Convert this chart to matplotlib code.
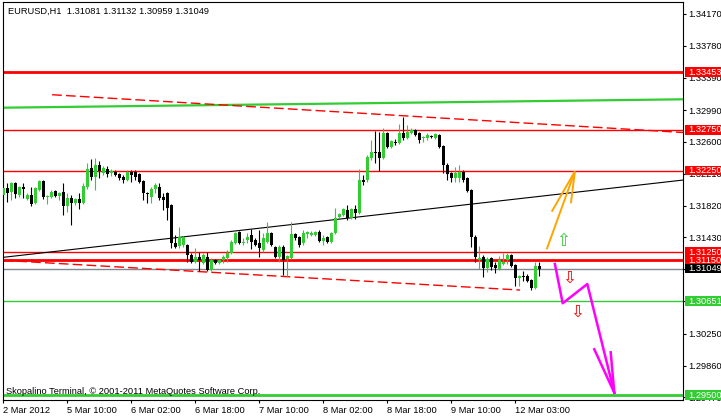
import matplotlib
matplotlib.use('Agg')
import matplotlib.pyplot as plt
from matplotlib.patches import Rectangle
from matplotlib.transforms import blended_transform_factory

# EURUSD H1 bars as shown on screen (bar 0 = 2 Mar 2012, one bar per hour)
opens = [1.31950, 1.32036, 1.31987, 1.32097, 1.31950, 1.32048, 1.31901, 1.31950, 1.31852, 1.32012,
         1.32122, 1.31926, 1.31926, 1.31999, 1.31938, 1.31987, 1.31816, 1.31914, 1.31852, 1.31901,
         1.31852, 1.32048, 1.32281, 1.32171, 1.32318, 1.32220, 1.32269, 1.32220, 1.32232, 1.32208,
         1.32171, 1.32134, 1.32232, 1.32232, 1.32208, 1.32122, 1.31975, 1.31926, 1.32024, 1.32048,
         1.31926, 1.31975, 1.31828, 1.31362, 1.31326, 1.31338, 1.31338, 1.31215, 1.31130, 1.31191,
         1.31117, 1.31191, 1.31032, 1.31154, 1.31117, 1.31154, 1.31179, 1.31240, 1.31362, 1.31497,
         1.31362, 1.31399, 1.31460, 1.31399, 1.31362, 1.31277, 1.31375, 1.31485, 1.31313, 1.31191,
         1.31313, 1.31166, 1.31179, 1.31473, 1.31436, 1.31362, 1.31473, 1.31460, 1.31460, 1.31497,
         1.31387, 1.31436, 1.31375, 1.31485, 1.31681, 1.31705, 1.31767, 1.31669, 1.31779, 1.31730,
         1.32134, 1.32134, 1.32404, 1.32477, 1.32477, 1.32404, 1.32710, 1.32538, 1.32599, 1.32587,
         1.32710, 1.32648, 1.32710, 1.32746, 1.32710, 1.32648, 1.32648, 1.32673, 1.32648, 1.32685,
         1.32550, 1.32318, 1.32220, 1.32159, 1.32159, 1.32232, 1.32159, 1.32012, 1.31436, 1.31154,
         1.31191, 1.31056, 1.31179, 1.31093, 1.31044, 1.31105, 1.31154, 1.31215, 1.31093, 1.30934,
         1.30958, 1.30958, 1.30909, 1.30811, 1.31081]
highs = [1.32171, 1.32097, 1.32110, 1.32110, 1.32061, 1.32097, 1.31975, 1.32048, 1.32048, 1.32134,
         1.32134, 1.31950, 1.32012, 1.32012, 1.31987, 1.32097, 1.31975, 1.31950, 1.31914, 1.31975,
         1.32097, 1.32342, 1.32391, 1.32404, 1.32367, 1.32305, 1.32305, 1.32269, 1.32257, 1.32220,
         1.32195, 1.32257, 1.32257, 1.32257, 1.32220, 1.32134, 1.31987, 1.32048, 1.32097, 1.32097,
         1.31975, 1.31987, 1.31840, 1.31460, 1.31558, 1.31448, 1.31350, 1.31240, 1.31301, 1.31252,
         1.31240, 1.31252, 1.31179, 1.31166, 1.31166, 1.31215, 1.31277, 1.31399, 1.31497, 1.31509,
         1.31424, 1.31485, 1.31534, 1.31424, 1.31522, 1.31485, 1.31620, 1.31497, 1.31326, 1.31338,
         1.31338, 1.31215, 1.31620, 1.31485, 1.31448, 1.31522, 1.31509, 1.31509, 1.31509, 1.31522,
         1.31460, 1.31448, 1.31497, 1.31791, 1.31730, 1.31791, 1.31828, 1.31791, 1.31828, 1.32269,
         1.32195, 1.32440, 1.32624, 1.32734, 1.32722, 1.32771, 1.32722, 1.32624, 1.32636, 1.32820,
         1.32906, 1.32808, 1.32771, 1.32759, 1.32722, 1.32673, 1.32710, 1.32685, 1.32710, 1.32697,
         1.32563, 1.32342, 1.32232, 1.32293, 1.32318, 1.32257, 1.32171, 1.32024, 1.31460, 1.31326,
         1.31215, 1.31191, 1.31191, 1.31130, 1.31203, 1.31240, 1.31240, 1.31228, 1.31105, 1.30970,
         1.31019, 1.30982, 1.30921, 1.31130, 1.31132]
lows = [1.31889, 1.31865, 1.31889, 1.31914, 1.31926, 1.31914, 1.31889, 1.31816, 1.31840, 1.31999,
        1.31901, 1.31840, 1.31914, 1.31926, 1.31889, 1.31705, 1.31742, 1.31583, 1.31828, 1.31779,
        1.31840, 1.32024, 1.32134, 1.32012, 1.32159, 1.32195, 1.32171, 1.32183, 1.32183, 1.32134,
        1.32097, 1.32122, 1.32110, 1.32134, 1.32097, 1.31889, 1.31852, 1.31852, 1.31975, 1.31889,
        1.31767, 1.31644, 1.31301, 1.31301, 1.31301, 1.31313, 1.31130, 1.31117, 1.31117, 1.31019,
        1.31105, 1.31019, 1.31019, 1.31105, 1.31105, 1.31117, 1.31130, 1.31228, 1.31350, 1.31350,
        1.31338, 1.31362, 1.31289, 1.31326, 1.31191, 1.31252, 1.31362, 1.31326, 1.31179, 1.31130,
        1.30970, 1.30946, 1.31166, 1.31399, 1.31313, 1.31338, 1.31424, 1.31448, 1.31448, 1.31375,
        1.31338, 1.31362, 1.31362, 1.31473, 1.31669, 1.31693, 1.31644, 1.31656, 1.31656, 1.31718,
        1.32073, 1.32110, 1.32379, 1.32342, 1.32244, 1.32391, 1.32526, 1.32526, 1.32563, 1.32575,
        1.32624, 1.32636, 1.32697, 1.32673, 1.32587, 1.32599, 1.32624, 1.32648, 1.32636, 1.32526,
        1.32220, 1.32134, 1.32110, 1.32110, 1.32110, 1.32110, 1.31987, 1.31313, 1.31130, 1.31044,
        1.30946, 1.31007, 1.31032, 1.30995, 1.31032, 1.31093, 1.31105, 1.31068, 1.30836, 1.30836,
        1.30897, 1.30885, 1.30786, 1.30799, 1.30959]
closes = [1.32036, 1.31975, 1.32097, 1.31963, 1.32048, 1.32024, 1.31950, 1.31840, 1.32036, 1.32122,
          1.31926, 1.31938, 1.31987, 1.31938, 1.31975, 1.31816, 1.31914, 1.31852, 1.31901, 1.31852,
          1.32061, 1.32269, 1.32171, 1.32318, 1.32244, 1.32281, 1.32208, 1.32244, 1.32195, 1.32159,
          1.32134, 1.32232, 1.32195, 1.32171, 1.32110, 1.31975, 1.31963, 1.32024, 1.32073, 1.31914,
          1.31889, 1.31791, 1.31362, 1.31313, 1.31436, 1.31436, 1.31215, 1.31130, 1.31191, 1.31154,
          1.31215, 1.31032, 1.31154, 1.31117, 1.31154, 1.31191, 1.31240, 1.31375, 1.31485, 1.31362,
          1.31375, 1.31436, 1.31375, 1.31338, 1.31301, 1.31424, 1.31485, 1.31338, 1.31191, 1.31313,
          1.31154, 1.31203, 1.31473, 1.31424, 1.31338, 1.31485, 1.31497, 1.31485, 1.31497, 1.31387,
          1.31424, 1.31375, 1.31485, 1.31669, 1.31718, 1.31779, 1.31669, 1.31779, 1.31730, 1.32134,
          1.32110, 1.32416, 1.32477, 1.32465, 1.32404, 1.32710, 1.32538, 1.32612, 1.32587, 1.32710,
          1.32648, 1.32722, 1.32746, 1.32685, 1.32624, 1.32661, 1.32685, 1.32661, 1.32697, 1.32538,
          1.32318, 1.32208, 1.32159, 1.32220, 1.32232, 1.32134, 1.31999, 1.31436, 1.31191, 1.31179,
          1.31056, 1.31166, 1.31068, 1.31056, 1.31154, 1.31130, 1.31215, 1.31081, 1.30934, 1.30958,
          1.30946, 1.30897, 1.30811, 1.31081, 1.31049]

time_ticks = [0, 16, 32, 48, 64, 80, 96, 112, 128]
time_labels = ['2 Mar 2012', '5 Mar 10:00', '6 Mar 02:00', '6 Mar 18:00', '7 Mar 10:00',
               '8 Mar 02:00', '8 Mar 18:00', '9 Mar 10:00', '12 Mar 03:00']
price_ticks = [1.34170, 1.33780, 1.33390, 1.32990, 1.32600, 1.32210, 1.31820,
               1.31430, 1.31040, 1.30650, 1.30250, 1.29860, 1.29470]

# horizontal levels, drawn with a price tag on the right axis
level_prices = [1.33453, 1.32750, 1.32250, 1.31150, 1.31250, 1.31049, 1.30651, 1.29500]

# trend lines: bar index / price end points
green_trend_x = [-0.1, 170.0]
green_trend_y = [1.33020, 1.33123]
upper_dash_x = [12.2, 170.0]
upper_dash_y = [1.33179, 1.32716]
lower_dash_x = [0.0, 129.2]
lower_dash_y = [1.31150, 1.30786]
black_trend_x = [0.0, 170.0]
black_trend_y = [1.31187, 1.32134]

# hand drawn forecast: orange up arrow, magenta down path
orange_x = [[135.85, 142.9], [137.1, 142.9], [141.9, 142.9]]
orange_y = [[1.31285, 1.32240], [1.31746, 1.32240], [1.31849, 1.32240]]
magenta_x = [137.9, 139.85, 146.0, 152.75]
magenta_y = [1.31105, 1.30624, 1.30860, 1.29528]
magenta_head_x = [[147.75, 152.75], [151.85, 152.75]]
magenta_head_y = [[1.30060, 1.29528], [1.30023, 1.29528]]
up_sign = (139.85, 1.31387)
down_signs = [(141.5, 1.30942), (143.5, 1.30521)]

RED = '#FF0000'
GREEN = '#32CD32'
GRAY = '#7f8790'
LEVEL_STYLE = {
    1.33453: (RED, 2.0, 'white'),
    1.32750: (RED, 1.0, 'white'),
    1.32250: (RED, 1.0, 'white'),
    1.31250: (RED, 1.0, 'white'),
    1.31150: (RED, 2.0, 'white'),
    1.31049: (GRAY, 1.0, 'white'),
    1.30651: (GREEN, 1.0, 'white'),
    1.29500: (GREEN, 2.0, 'white'),
}
TAG_BG = {1.31049: 'black'}

plt.rcParams['font.family'] = ['Liberation Sans', 'DejaVu Sans']
FS = 6.7

fig = plt.figure(figsize=(7.21, 4.17), dpi=100)
fig.patch.set_facecolor('white')
ax = fig.add_axes([2.5 / 721, 17 / 417, 680.8 / 721, 398 / 417])
ax.set_xlim(-0.2, 170.0)
ax.set_ylim(1.29439, 1.34315)

# levels
for p in level_prices:
    col, lw, _ = LEVEL_STYLE[p]
    ax.axhline(p, color=col, lw=lw, zorder=1)

# trend lines
ax.plot(green_trend_x, green_trend_y, color=GREEN, lw=1.6, zorder=1)
ax.plot(upper_dash_x, upper_dash_y, color=RED, lw=1.0, dashes=(7, 3), zorder=1)
ax.plot(lower_dash_x, lower_dash_y, color=RED, lw=1.0, dashes=(7, 3), zorder=1)
ax.plot(black_trend_x, black_trend_y, color='black', lw=0.8, zorder=1)

# candles
for i in range(len(opens)):
    o, h, l, c = opens[i], highs[i], lows[i], closes[i]
    col = GREEN if c > o else 'black'
    ax.vlines(i, l, h, color=col, lw=0.8, zorder=2)
    ax.bar(i, max(abs(c - o), 0.00004), bottom=min(o, c), width=0.75,
           color=col, linewidth=0, zorder=3)

# forecast drawing
for xs, ys in zip(orange_x, orange_y):
    ax.plot(xs, ys, color='#FFA500', lw=1.4, zorder=4, solid_capstyle='butt')
ax.plot(magenta_x, magenta_y, color='#FF00FF', lw=1.8, zorder=4)
for xs, ys in zip(magenta_head_x, magenta_head_y):
    ax.plot(xs, ys, color='#FF00FF', lw=1.8, zorder=4)
ax.text(up_sign[0], up_sign[1], '\u21e7', color=GREEN, fontsize=12,
        family=['DejaVu Sans'], ha='center', va='center', zorder=5)
for sx, sy in down_signs:
    ax.text(sx, sy, '\u21e9', color=RED, fontsize=12,
            family=['DejaVu Sans'], ha='center', va='center', zorder=5)

# axes look
for s in ax.spines.values():
    s.set_color('black')
    s.set_linewidth(0.8)
ax.yaxis.tick_right()
ax.set_yticks(price_ticks)
ax.set_yticklabels(['%.5f' % p for p in price_ticks])
ax.set_xticks(time_ticks)
ax.set_xticklabels(time_labels)
for lab in ax.get_xticklabels():
    lab.set_horizontalalignment('left')
ax.tick_params(axis='y', direction='out', length=2.5, width=0.8, pad=1.3, labelsize=FS, colors='black')
ax.tick_params(axis='x', direction='out', length=2.5, width=0.8, pad=2.0, labelsize=FS, colors='black')

# price tags on the right axis
tr = blended_transform_factory(ax.transAxes, ax.transData)
for p in level_prices:
    col, _, tcol = LEVEL_STYLE[p]
    bg = TAG_BG.get(p, col)
    ax.add_patch(Rectangle((1.0025, p - 0.00060), 0.06, 0.00120, transform=tr,
                           facecolor=bg, edgecolor='none', clip_on=False, zorder=6))
    ax.text(1.0069, p, '%.5f' % p, transform=tr, color=tcol, fontsize=FS,
            ha='left', va='center', clip_on=False, zorder=7)

ax.annotate('EURUSD,H1  1.31081 1.31132 1.30959 1.31049', xy=(0, 1), xycoords='axes fraction',
            xytext=(5, -12), textcoords='offset pixels', fontsize=FS, va='baseline', ha='left')
ax.annotate('Skopalino Terminal, \u00a9 2001-2011 MetaQuotes Software Corp.', xy=(0, 0),
            xycoords='axes fraction', xytext=(3.5, 6), textcoords='offset pixels',
            fontsize=FS, va='baseline', ha='left', zorder=8)

fig.savefig('out.png', dpi=100)
